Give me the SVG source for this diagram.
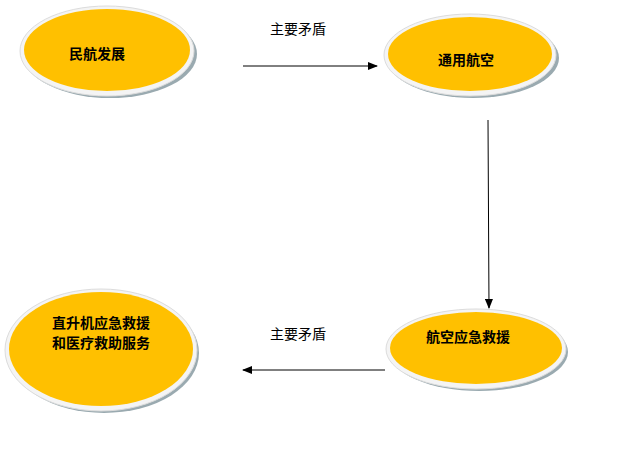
<svg xmlns="http://www.w3.org/2000/svg" width="620" height="449" viewBox="0 0 620 449">
<style>
.sh{fill:#9aaab0}
.rim{fill:#f4f4f4;stroke:#dcdcdc;stroke-width:1}
.core{fill:#ffc000}
.t{font-family:"Noto Sans CJK SC",sans-serif;font-size:14px;font-weight:bold;fill:#000}
.l{font-family:"Noto Sans CJK SC",sans-serif;font-size:14px;fill:#000}
.c{stroke:#000;stroke-width:1;fill:none}
</style>
<defs><marker id="a" markerWidth="10" markerHeight="8" refX="9" refY="4" orient="auto" markerUnits="userSpaceOnUse"><path d="M0,0L10,4L0,8z" fill="#000"/></marker></defs>
<rect width="620" height="449" fill="#fff"/>
<g id="n1"><ellipse class="sh" cx="110" cy="54" rx="87" ry="44"/><ellipse class="rim" cx="107" cy="51" rx="87" ry="45"/><ellipse class="core" cx="107" cy="50" rx="83" ry="41"/><text class="t" x="97" y="59" text-anchor="middle">民航发展</text></g>
<g id="n2"><ellipse class="sh" cx="473" cy="58" rx="86" ry="40"/><ellipse class="rim" cx="470" cy="55" rx="86" ry="41"/><ellipse class="core" cx="470" cy="54" rx="82" ry="37"/><text class="t" x="466" y="65" text-anchor="middle">通用航空</text></g>
<g id="n3"><ellipse class="sh" cx="104" cy="353" rx="95" ry="60"/><ellipse class="rim" cx="101" cy="350" rx="96" ry="61"/><ellipse class="core" cx="101" cy="349" rx="92" ry="57"/><text class="t" x="101" y="328" text-anchor="middle">直升机应急救援</text><text class="t" x="101" y="348" text-anchor="middle">和医疗救助服务</text></g>
<g id="n4"><ellipse class="sh" cx="479" cy="352" rx="89" ry="39"/><ellipse class="rim" cx="476" cy="349" rx="90" ry="40"/><ellipse class="core" cx="476" cy="348" rx="86" ry="36"/><text class="t" x="468" y="342" text-anchor="middle">航空应急救援</text></g>
<g id="connectors">
<line class="c" x1="243" y1="66" x2="377" y2="66" marker-end="url(#a)"/>
<line class="c" x1="488" y1="120" x2="489" y2="308" marker-end="url(#a)"/>
<line class="c" x1="385" y1="370" x2="243" y2="370" marker-end="url(#a)"/>
<text class="l" x="298" y="34" text-anchor="middle">主要矛盾</text>
<text class="l" x="298" y="339" text-anchor="middle">主要矛盾</text>
</g>
</svg>
